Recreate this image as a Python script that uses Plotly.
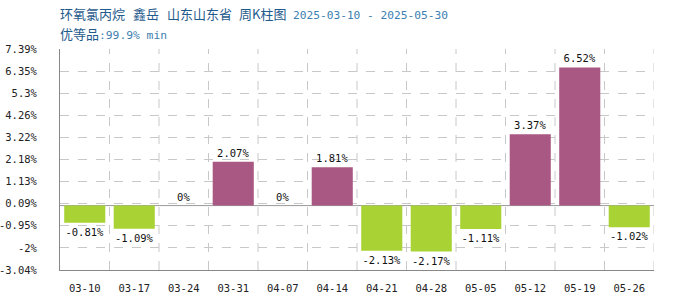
import plotly.graph_objects as go

categories = ["03-10", "03-17", "03-24", "03-31", "04-07", "04-14", "04-21", "04-28", "05-05", "05-12", "05-19", "05-26"]
values = [-0.81, -1.09, 0, 2.07, 0, 1.81, -2.13, -2.17, -1.11, 3.37, 6.52, -1.02]
tick_vals = [7.39, 6.35, 5.3, 4.26, 3.22, 2.18, 1.13, 0.09, -0.95, -2, -3.04]
tick_text = ["7.39%", "6.35%", "5.3%", "4.26%", "3.22%", "2.18%", "1.13%", "0.09%", "-0.95%", "-2%", "-3.04%"]
title_parts = ["环氧氯丙烷", "鑫岳", "山东山东省", "周K柱图"]
date_range = "2025-03-10 - 2025-05-30"

POS = "#a85882"
NEG = "#a9d334"
colors = [POS if v >= 0 else NEG for v in values]
labels = [f"{v:g}%" for v in values]

mono = "DejaVu Sans Mono, Liberation Mono, monospace"
cjk = "Noto Sans CJK SC"
DARK = "#1f5b8c"
LIGHT = "#3d7fb0"

fig = go.Figure()
fig.add_trace(go.Bar(
    x=list(range(len(categories))), y=values,
    marker=dict(color=colors, line=dict(width=0)),
    text=labels, textposition="outside", cliponaxis=False,
    textfont=dict(family=mono, size=10.5, color="#111111"),
    width=0.83,
))

# vertical dashed separators at category boundaries
for i in range(1, len(categories) + 1):
    fig.add_shape(type="line", xref="x", yref="paper", x0=i - 0.5, x1=i - 0.5, y0=0, y1=1,
                  line=dict(color="#c8c8c8", width=1, dash="dash"), layer="below")

# zero line
fig.add_shape(type="line", xref="paper", yref="y", x0=0, x1=1, y0=0, y1=0,
              line=dict(color="#999999", width=1), layer="below")

# title pieces (pixel offsets from plot left edge)
title_x = [0, 73, 107, 179]
annotations = []
for txt, dx in zip(title_parts, title_x):
    annotations.append(dict(xref="paper", yref="paper", x=0, y=1, xanchor="left", yanchor="bottom",
                            xshift=dx - 2, yshift=24, showarrow=False,
                            text=txt, font=dict(family=cjk, size=13, color=DARK)))
annotations.append(dict(xref="paper", yref="paper", x=0, y=1, xanchor="left", yanchor="bottom",
                        xshift=233 - 2, yshift=25, showarrow=False,
                        text=date_range, font=dict(family="DejaVu Sans Mono", size=11.2, color=LIGHT)))
annotations.append(dict(xref="paper", yref="paper", x=0, y=1, xanchor="left", yanchor="bottom",
                        xshift=-2, yshift=4, showarrow=False, align="left",
                        text=("<span style='font-family:Noto Sans CJK SC;font-size:13px;color:#1f5b8c'>优等品</span>"
                              "<span style='font-family:DejaVu Sans Mono;font-size:11.3px;color:#3d7fb0'>:99.9% min</span>")))

fig.update_layout(
    width=700, height=300,
    margin=dict(l=60, r=46, t=49, b=30, autoexpand=False),
    plot_bgcolor="white", paper_bgcolor="white",
    showlegend=False,
    font=dict(family=mono, size=10.5, color="#222222"),
    xaxis=dict(
        range=[-0.5, len(categories) - 0.5], automargin=False,
        tickvals=list(range(len(categories))), ticktext=categories,
        showgrid=False, zeroline=False, showline=True, linecolor="#888888", linewidth=1,
        ticks="", ticklabelstandoff=8,
        tickfont=dict(family=mono, size=10.5, color="#222222"),
    ),
    yaxis=dict(
        range=[-3.04, 7.39], automargin=False,
        tickvals=tick_vals, ticktext=tick_text,
        showgrid=True, gridcolor="#c8c8c8", griddash="dash", gridwidth=1,
        zeroline=False, showline=True, linecolor="#888888", linewidth=1,
        ticks="", ticklabelstandoff=20,
        tickfont=dict(family=mono, size=10.5, color="#222222"),
    ),
    annotations=annotations,
)

fig.write_html("out.html")
